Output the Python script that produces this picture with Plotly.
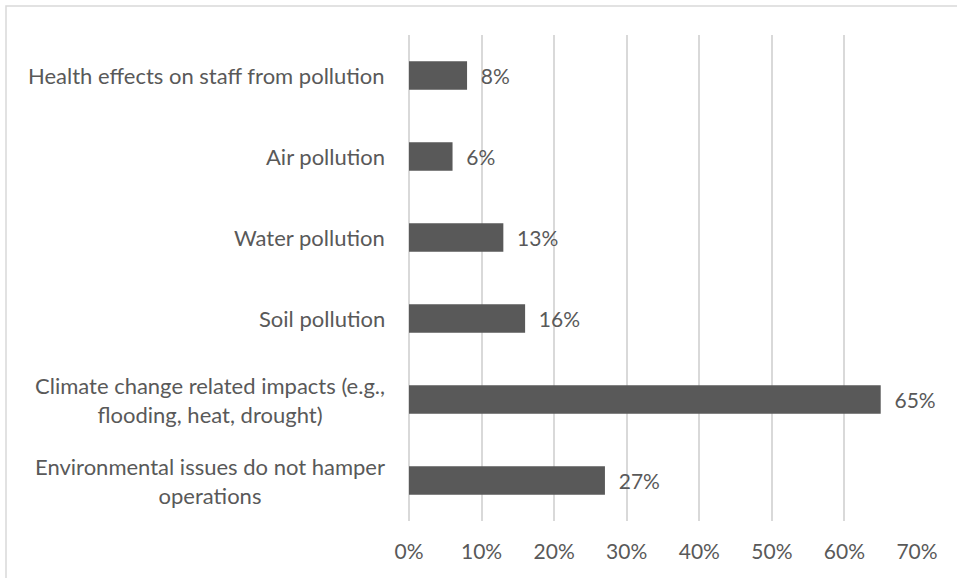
import plotly.graph_objects as go

# Survey responses: environmental issues hampering operations
categories = [
    "Health effects on staff from pollution",
    "Air pollution",
    "Water pollution",
    "Soil pollution",
    "Climate change related impacts (e.g.,<br>flooding, heat, drought)",
    "Environmental issues do not hamper<br>operations",
]
shares = [0.08, 0.06, 0.13, 0.16, 0.65, 0.27]
tick_vals = [0, 0.1, 0.2, 0.3, 0.4, 0.5, 0.6, 0.7]
tick_text = ["0%", "10%", "20%", "30%", "40%", "50%", "60%", "70%"]

W, H = 957, 578
L, R, T, B = 409, 40, 35, 57
pw, ph = W - L - R, H - T - B

grey = "#595959"
font = "Lato, Carlito, 'Open Sans', sans-serif"
NB = "\u00a0"

fig = go.Figure(
    go.Bar(
        x=shares,
        y=categories,
        orientation="h",
        marker=dict(color=grey, line=dict(width=0)),
        width=0.35,
        text=[NB * 2 + f"{v:.0%}" for v in shares],
        textposition="outside",
        textfont=dict(color=grey, size=21, family=font),
        cliponaxis=False,
    )
)

# category labels drawn as centered multi-line text to the left of the axis
for cat in categories:
    fig.add_annotation(
        x=0, xref="paper", y=cat, yref="y",
        text=cat, showarrow=False,
        xanchor="right", yanchor="middle", align="center",
        xshift=-22,
        font=dict(color=grey, size=22, family=font),
    )

# outer chart border
fig.add_shape(
    type="rect", xref="paper", yref="paper",
    x0=(6 - L) / pw, x1=(W + 10 - L) / pw,
    y0=-(B + 10) / ph, y1=1 + (T - 6) / ph,
    line=dict(color="#d9d9d9", width=1.5),
    fillcolor="rgba(0,0,0,0)", layer="below",
)

fig.update_layout(
    width=W, height=H,
    margin=dict(l=L, r=R, t=T, b=B, pad=0),
    paper_bgcolor="white", plot_bgcolor="white",
    showlegend=False,
    bargap=0.65,
    xaxis=dict(
        range=[0, 0.7],
        tickvals=tick_vals, ticktext=tick_text,
        showgrid=True, gridcolor="#d9d9d9", gridwidth=1.5,
        zeroline=True, zerolinecolor="#d9d9d9", zerolinewidth=1.5,
        showline=False, ticks="", ticklen=0,
        ticklabelstandoff=16,
        tickfont=dict(color=grey, size=21, family=font),
        fixedrange=True,
    ),
    yaxis=dict(
        categoryorder="array", categoryarray=categories[::-1],
        showticklabels=False, showgrid=False, zeroline=False, showline=False,
        ticks="", fixedrange=True,
    ),
)

fig.write_html("out.html")
